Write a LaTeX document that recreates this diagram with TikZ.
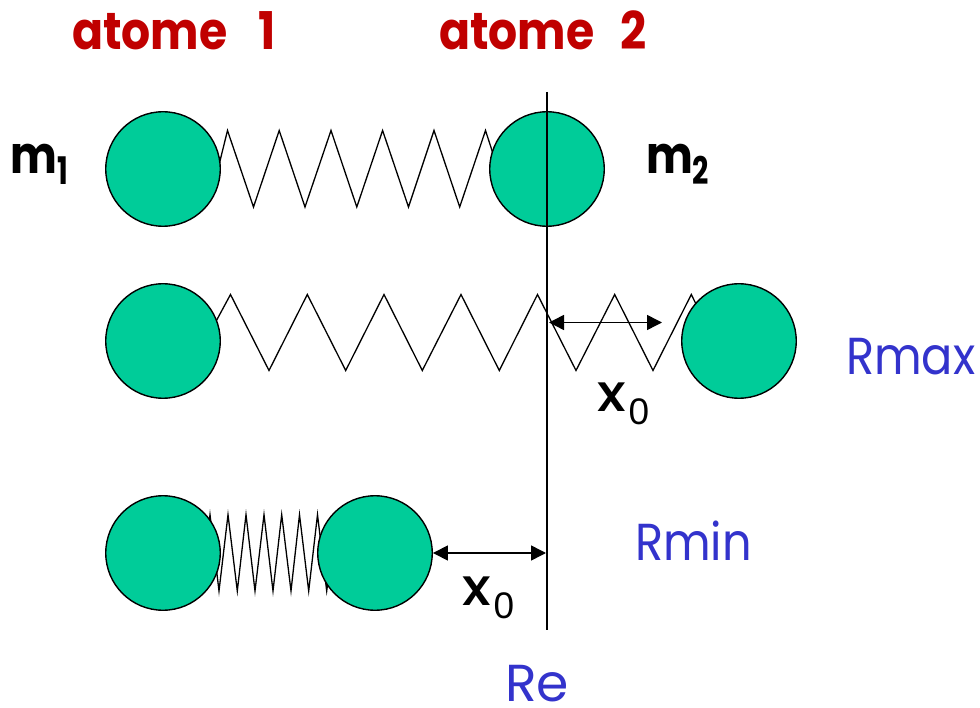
\documentclass[tikz,border=0pt]{standalone}
\usepackage{fontspec}
\usepackage{graphicx}
\setmainfont{Poppins}
\newfontfamily\medlab{Poppins Medium}
\newfontfamily\plainsub{Liberation Sans}
\usetikzlibrary{arrows.meta}
\definecolor{atomgreen}{HTML}{00CC99}
\definecolor{atomred}{HTML}{C00000}
\definecolor{labblue}{HTML}{3333CC}
\newcommand{\narrowtxt}[2]{\scalebox{#1}[1]{#2}}
\tikzset{
  atom/.style={circle,draw=black,fill=atomgreen,line width=1.4pt,minimum size=114.5pt,inner sep=0pt},
  spring/.style={draw=black,line width=1.3pt,line join=miter},
  guide/.style={draw=black,line width=1.5pt},
  measure/.style={draw=black,line width=1.5pt,{Triangle[length=15pt,width=15pt]}-{Triangle[length=15pt,width=15pt]}},
  lab/.style={anchor=base west,inner sep=0pt,outer sep=0pt},
  title/.style={lab,text=atomred,font=\bfseries\fontsize{52}{52}\selectfont},
  mass/.style={lab,text=black,font=\bfseries\fontsize{52}{52}\selectfont},
  state/.style={lab,text=labblue,font=\fontsize{52}{52}\selectfont},
  disp/.style={lab,text=black,font=\fontsize{52}{52}\selectfont},
}
\begin{document}
\begin{tikzpicture}[x=1pt,y=-1pt]
\useasboundingbox (0,0) rectangle (980,708);
% springs
\draw[spring] (218,169) -- (227.5,130.5) -- (253.5,207) -- (279.2,130.5) -- (305,207) -- (331,130.5) -- (356.8,207) -- (382.6,130.5) -- (408.5,207) -- (434,130.5) -- (459.7,207) -- (485.5,130.5) -- (498,169);
\draw[spring] (210,332.5) -- (230.5,294.5) -- (269,370.5) -- (307.3,294.5) -- (345.7,370.5) -- (384,294.5) -- (422.3,370.5) -- (461,294.5) -- (499.3,370.5) -- (537.5,294.5) -- (576,370.5) -- (614.7,294.5) -- (653,370.5) -- (691.3,294.5) -- (710,332.5);
\draw[spring] (201,591) -- (210,514.7) -- (219,591) -- (228,514.7) -- (237.3,591) -- (246,514.7) -- (255,591) -- (264,514.7) -- (273,591) -- (281.7,514.7) -- (291,591) -- (299.5,514.7) -- (308.7,591) -- (317.5,514.7) -- (326.7,591) -- (332,553);
% atoms
\node[atom] (a1) at (163,169) {};
\node[atom] (a2) at (547,169) {};
\node[atom] (b1) at (163,341) {};
\node[atom] (b2) at (739,341) {};
\node[atom] (c1) at (163,553) {};
\node[atom] (c2) at (375,553) {};
% equilibrium line
\coordinate (ltop) at (547,92);
\coordinate (lbot) at (547,630);
\draw[guide] (ltop) -- (lbot);
% displacement arrows
\coordinate (ms) at (549,322.5);
\coordinate (me) at (662,322.5);
\coordinate (ne) at (546,553);
\draw[measure] (ms) -- (me);
\draw[measure] (c2.east) -- (ne);
% labels
\node[title] (t1) at (72,50) {\narrowtxt{0.88}{atome}\hspace{31pt}\narrowtxt{0.88}{1}};
\node[title] (t2) at (439,50) {\narrowtxt{0.88}{atome}\hspace{26pt}\narrowtxt{0.88}{2}};
\node[mass] (m1) at (10,174) {\narrowtxt{0.85}{m}\hspace{1pt}\raisebox{-11pt}{\narrowtxt{0.75}{\fontsize{38}{38}\selectfont 1}}};
\node[mass] (m2) at (646,174) {\narrowtxt{0.85}{m}\raisebox{-11pt}{\narrowtxt{0.75}{\fontsize{38}{38}\selectfont 2}}};
\node[state] (rmax) at (846,375) {\narrowtxt{0.89}{Rmax}};
\node[state] (rmin) at (635,560) {\narrowtxt{0.89}{Rmin}};
\node[state] (re) at (505,701) {Re};
\node[disp] (x1) at (597,412) {{\medlab\narrowtxt{1.1}{x}}\hspace{3pt}\raisebox{-13pt}{\plainsub\fontsize{37}{37}\selectfont 0}};
\node[disp] (x2) at (462,605) {{\medlab\narrowtxt{1.1}{x}}\hspace{3pt}\raisebox{-13pt}{\plainsub\fontsize{37}{37}\selectfont 0}};
\end{tikzpicture}
\end{document}
